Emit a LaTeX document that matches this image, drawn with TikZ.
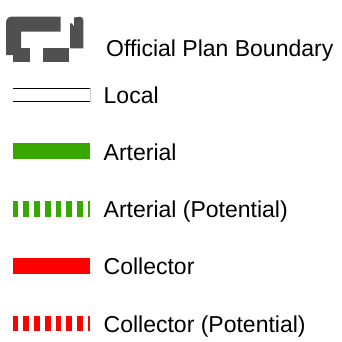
\documentclass[tikz,border=0pt]{standalone}
\usepackage{fontspec}
\setmainfont{Liberation Sans}

\definecolor{boundarygray}{RGB}{80,80,80}
\definecolor{arterialgreen}{RGB}{56,168,0}
\definecolor{collectorred}{RGB}{255,0,0}

\tikzset{
  legendtext/.style={anchor=base west, inner sep=0pt, font=\fontsize{23}{27}\selectfont},
  roadbar/.style={line width=15.5pt},
  potentialbar/.style={line width=15.5pt, dash pattern=on 5.7pt off 5pt}
}

\begin{document}
\begin{tikzpicture}[x=1pt, y=-1pt] % pixel units, y down
            % Fix the page size
            \useasboundingbox (0,0) rectangle (342,341);
            % Boundary symbol: broken thick gray outline
            \fill[boundarygray] (6,55) -- (6,22.5) arc[start angle=180, end angle=270, radius=6] -- (60.7,16.5) -- (60.7,31.5) -- (21,31.5) -- (21,55) -- cycle;
            \fill[boundarygray] (13.3,48.3) rectangle (30,61.7);
            \fill[boundarygray] (42.7,48.3) rectangle (69.3,61.7);
            \fill[boundarygray] (70,48.3) -- (70,23.3) -- (72,23.3) -- (74,26.5) -- (74,17.5) -- (80,16.7) arc[start angle=270, end angle=360, radius=3.3] -- (83.3,48.3) -- cycle;
            \node[legendtext] (boundary) at (106,56) {Official Plan Boundary};

            % Local: double line
            \draw[gray!40, line width=0.6pt] (90,88.3) -- (90,101.5);
            \draw[black, line width=1.5pt] (12.7,88.3) -- (90,88.3);
            \draw[black, line width=1.5pt] (12.7,101.5) -- (90,101.5);
            \node[legendtext] (local) at (103.5,103.3) {Local};

            % Arterial
            \draw[roadbar, arterialgreen] (12.7,151.2) -- (90,151.2);
            \node[legendtext] (arterial) at (103.5,160) {Arterial};

            % Arterial (Potential)
            \draw[potentialbar, arterialgreen] (12.7,209) -- (90,209);
            \node[legendtext] (arterialpot) at (103.5,217.3) {Arterial (Potential)};

            % Collector
            \draw[roadbar, collectorred] (12.7,266.2) -- (90,266.2);
            \node[legendtext] (collector) at (103.5,274.5) {Collector};

            % Collector (Potential)
            \draw[potentialbar, collectorred] (12.7,323.7) -- (90,323.7);
            \node[legendtext] (collectorpot) at (103.5,332) {Collector (Potential)};
\end{tikzpicture}
\end{document}
